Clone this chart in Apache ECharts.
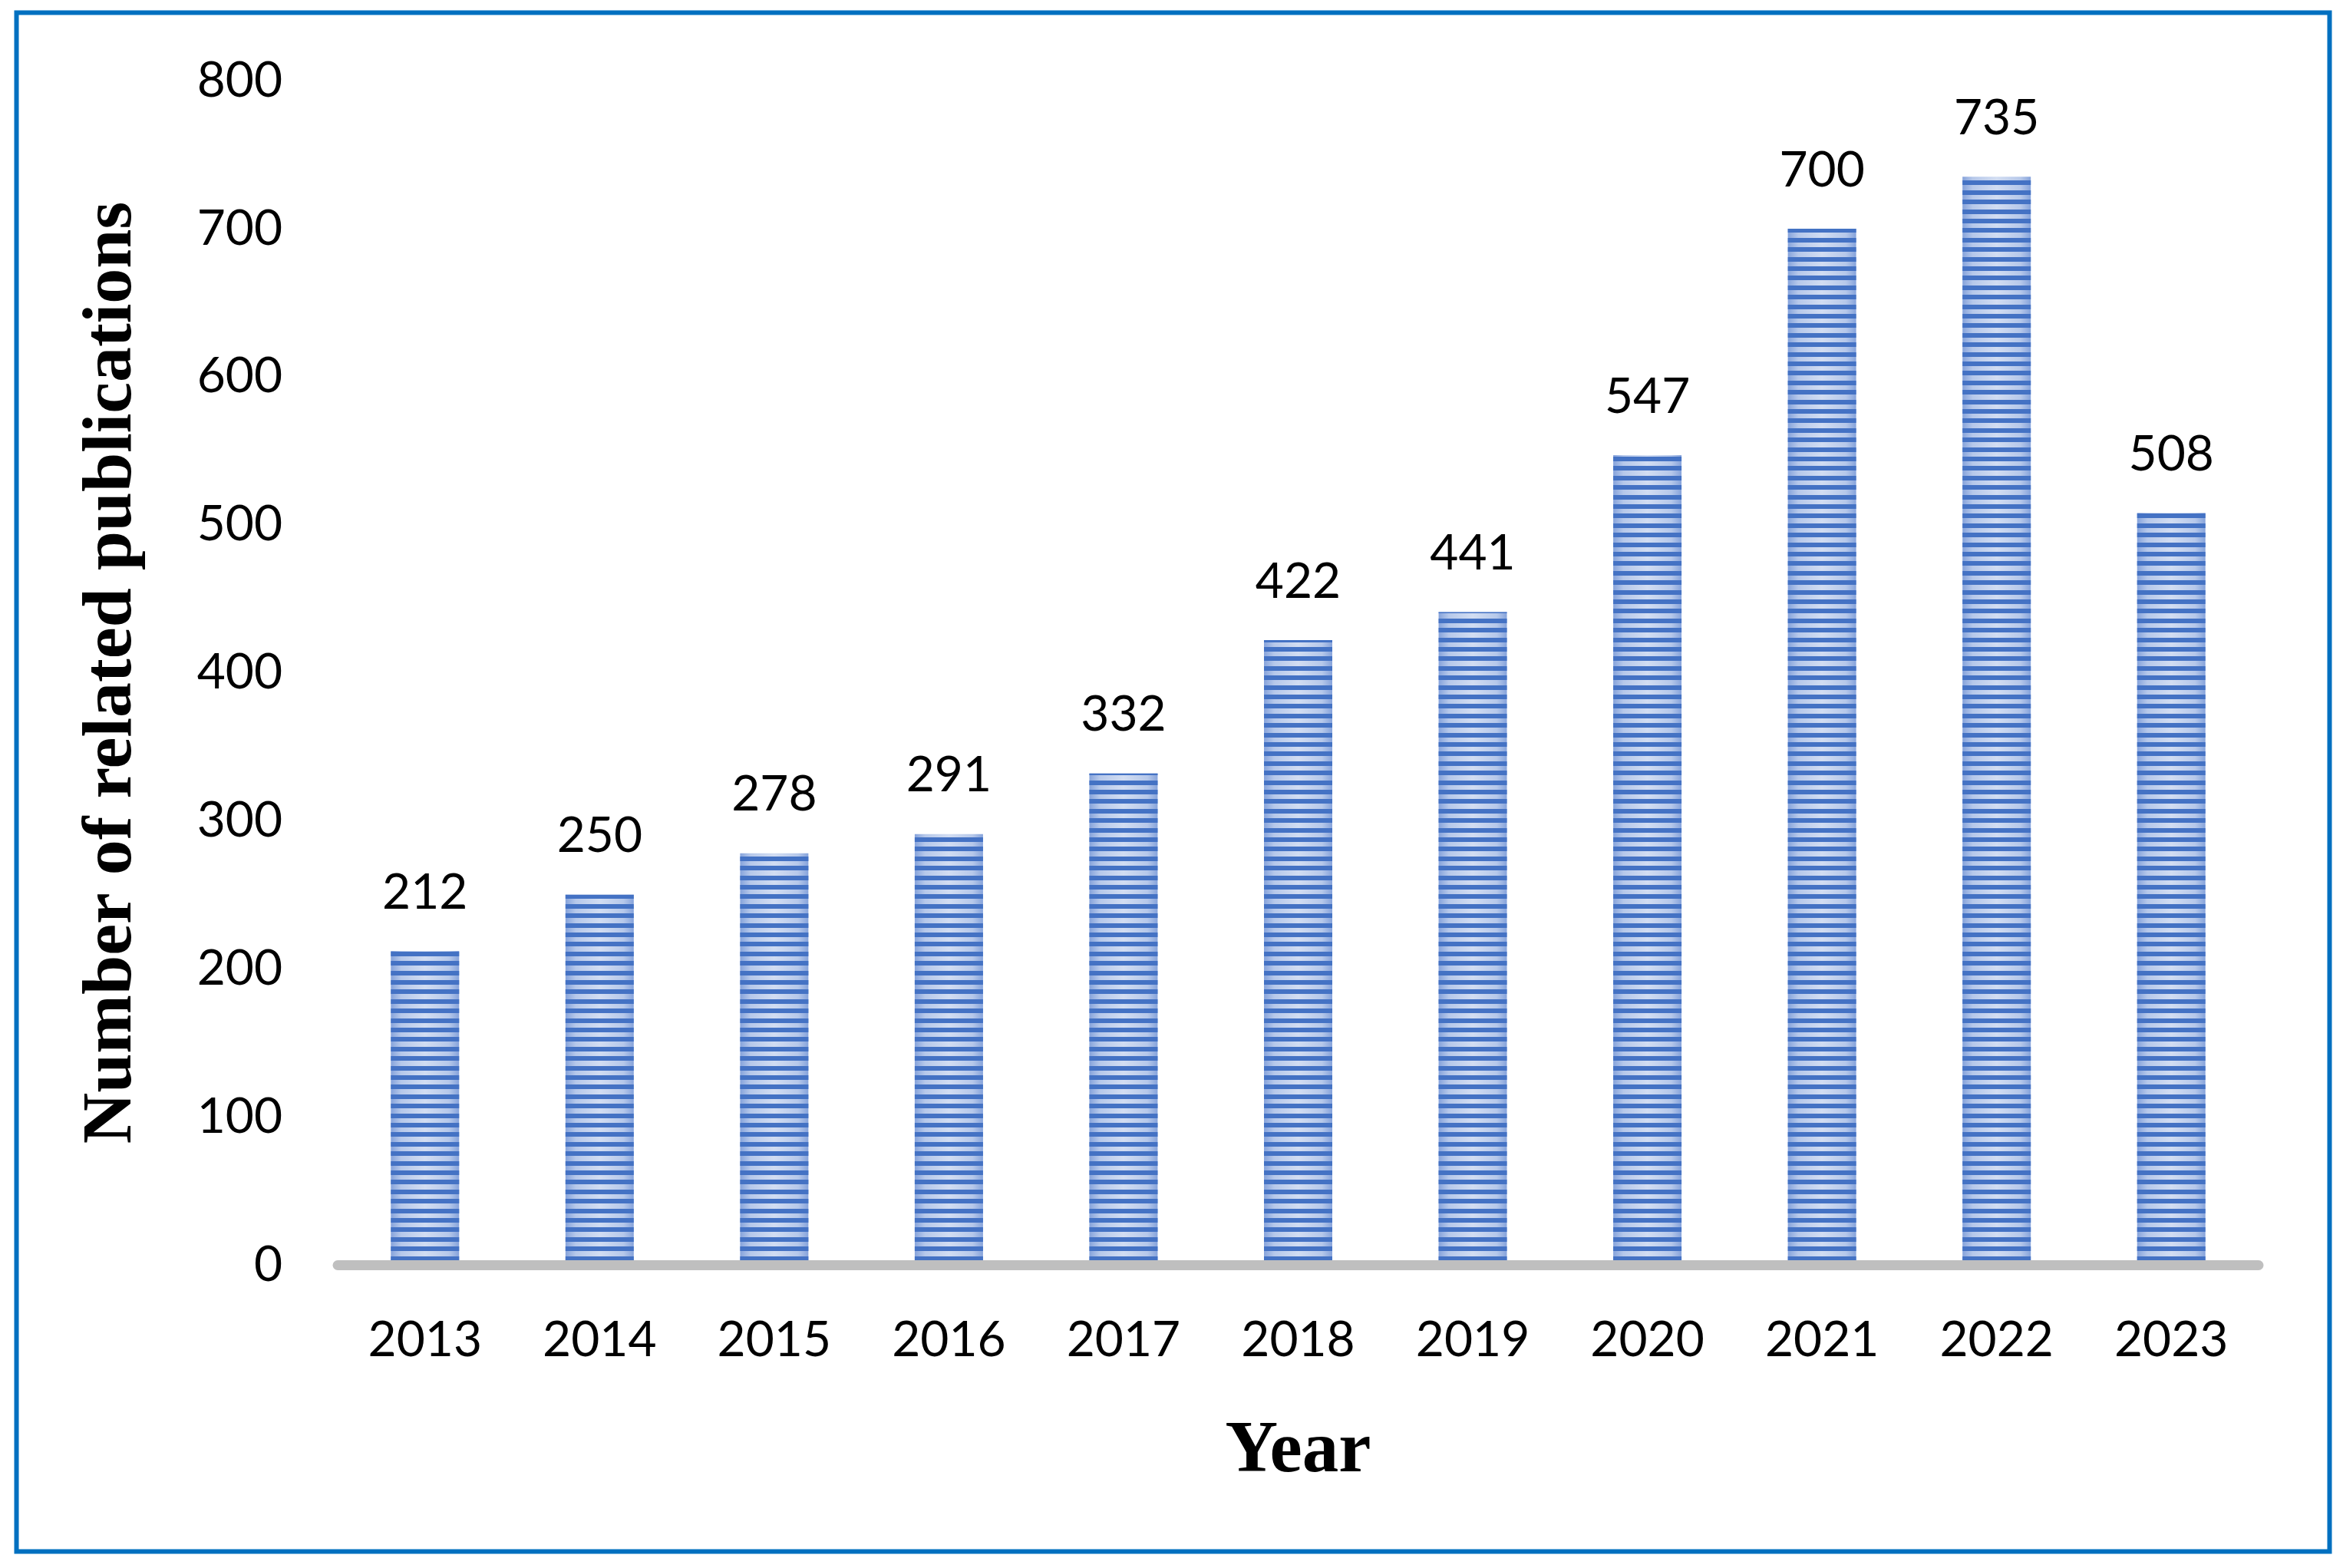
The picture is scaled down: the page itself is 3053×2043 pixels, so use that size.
<!DOCTYPE html>
<html>
<head>
<meta charset="utf-8">
<script src="https://cdn.jsdelivr.net/npm/echarts@6/dist/echarts.min.js"></script>
<style>
html,body{margin:0;padding:0;background:#fff;}
#chart{width:3053px;height:2043px;}
</style>
</head>
<body>
<div id="chart"></div>
<script>
const years = ['2013','2014','2015','2016','2017','2018','2019','2020','2021','2022','2023'];
const publications = [212, 250, 278, 291, 332, 422, 441, 547, 700, 735, 508];
const yAxisTitle = 'Number of related publications';
const xAxisTitle = 'Year';

const chart = echarts.init(document.getElementById('chart'), null, {renderer: 'canvas'});
const labelFont = 'Lato, "Open Sans", sans-serif';
const titleFont = '"Liberation Serif", "Times New Roman", serif';

chart.setOption({
  backgroundColor: '#ffffff',
  animation: false,
  graphic: [{
    type: 'rect',
    shape: {x: 21.5, y: 16.5, width: 3014, height: 2005},
    style: {fill: null, stroke: '#0070C0', lineWidth: 6},
    silent: true, z: 10
  }],
  grid: {left: 440, right: 110, top: 105, bottom: 395, containLabel: false},
  xAxis: {
    type: 'category',
    data: years,
    z: 5,
    axisLine: {show: true, lineStyle: {color: '#BFBFBF', width: 13}},
    axisTick: {show: false},
    axisLabel: {color: '#000', fontFamily: labelFont, fontSize: 64, margin: 66},
    name: xAxisTitle,
    nameLocation: 'middle',
    nameGap: 197,
    nameTextStyle: {color: '#000', fontFamily: titleFont, fontWeight: 'bold', fontSize: 95}
  },
  yAxis: {
    type: 'value',
    min: 0, max: 800, interval: 100,
    axisLine: {show: false},
    axisTick: {show: false},
    splitLine: {show: false},
    axisLabel: {color: '#000', fontFamily: labelFont, fontSize: 64, margin: 72},
    name: yAxisTitle,
    nameLocation: 'middle',
    nameGap: 248,
    nameTextStyle: {color: '#000', fontFamily: titleFont, fontWeight: 'bold', fontSize: 92}
  },
  series: [{
    type: 'bar',
    data: publications,
    barWidth: 89,
    itemStyle: {
      color: {
        type: 'linear', x: 0, y: 0, x2: 1, y2: 0,
        colorStops: [
          {offset: 0, color: '#86a3db'},
          {offset: 0.15, color: '#b6c8ea'},
          {offset: 0.5, color: '#d2ddf2'},
          {offset: 0.85, color: '#b6c8ea'},
          {offset: 1, color: '#86a3db'}
        ]
      },
      decal: {
        symbol: 'rect',
        symbolSize: 1,
        symbolKeepAspect: false,
        color: '#4472C4',
        dashArrayX: [20, 0],
        dashArrayY: [6, 6, 6, 7, 6, 6, 6, 6, 6, 7],
        rotation: 0
      }
    },
    label: {
      show: true,
      position: 'top',
      distance: 44,
      color: '#000',
      fontFamily: labelFont,
      fontSize: 64
    }
  }]
});
</script>
</body>
</html>
